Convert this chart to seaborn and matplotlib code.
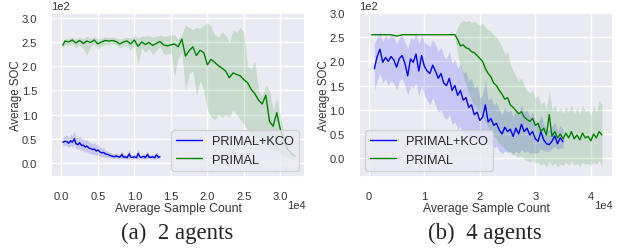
import matplotlib
matplotlib.use("Agg")
import matplotlib.pyplot as plt
import seaborn as sns
import pandas as pd

# ---- (a) 2 agents ----
a_kco_x = [200, 500, 800, 1000, 1300, 1500, 1800, 2000, 2300, 2500, 2800, 3000, 3300, 3500,
           3800, 4000, 4300, 4500, 4800, 5000, 5300, 5500, 5800, 6000, 6300, 6500, 6800, 7000,
           7300, 7500, 7800, 8000, 8300, 8500, 8800, 9000, 9300, 9500, 9800, 10000, 10300,
           10500, 10800, 11000, 11300, 11500, 11800, 12000, 12300, 12500, 12800, 13000, 13300, 13500]
a_kco_mean = [43, 45, 44, 41, 46, 43, 50, 40, 38, 42, 36, 37, 33, 35, 31, 30, 28, 29, 25, 27,
              23, 21, 22, 19, 18, 17, 15, 14, 13, 15, 13, 12, 18, 12, 13, 11, 19, 12, 12, 13,
              11, 20, 12, 12, 14, 11, 18, 12, 12, 13, 11, 17, 12, 13]
a_kco_lo = [34, 37, 35, 32, 36, 32, 38, 30, 28, 30, 25, 26, 22, 24, 20, 20, 18, 18, 15, 17,
            14, 13, 13, 12, 11, 11, 10, 10, 9, 10, 9, 9, 10, 9, 9, 8, 10, 9, 9, 9,
            8, 10, 9, 9, 9, 8, 10, 9, 9, 9, 8, 10, 9, 9]
a_kco_hi = [52, 55, 58, 52, 60, 56, 68, 54, 52, 56, 50, 50, 47, 48, 44, 42, 40, 42, 38, 39,
            33, 31, 32, 27, 25, 24, 21, 20, 18, 22, 18, 17, 26, 17, 18, 15, 28, 17, 17, 19,
            15, 30, 17, 17, 20, 15, 26, 17, 17, 18, 15, 25, 17, 18]

a_pr_x = [200, 500, 1000, 1500, 2000, 2500, 3000, 3500, 4000, 4500, 5000, 5500, 6000, 6500,
          7000, 7500, 8000, 8500, 9000, 9500, 10000, 10500, 11000, 11500, 12000, 12500, 13000,
          13500, 14000, 14500, 15000, 15500, 16000, 16500, 17000, 17500, 18000, 18500, 19000,
          19500, 20000, 20500, 21000, 21500, 22000, 22500, 23000, 23500, 24000, 24500, 25000,
          25500, 26000, 26500, 27000, 27500, 28000, 28500, 29000, 29500, 30000, 30500, 31000,
          31500, 32000]
a_pr_mean = [243, 252, 250, 254, 248, 253, 247, 252, 249, 254, 246, 250, 253, 252, 253, 251,
             246, 250, 252, 246, 254, 241, 250, 245, 249, 243, 247, 251, 244, 242, 244, 246,
             240, 256, 221, 232, 240, 222, 233, 228, 203, 214, 208, 201, 196, 190, 176, 186,
             183, 180, 172, 166, 152, 143, 130, 122, 140, 86, 76, 104, 68, 48, 28, 20, 14]
a_pr_lo = [236, 244, 242, 246, 238, 245, 236, 224, 240, 246, 236, 242, 246, 245, 246, 244,
           238, 242, 244, 232, 246, 205, 238, 228, 236, 225, 232, 240, 226, 225, 228, 180,
           215, 230, 150, 185, 190, 140, 170, 150, 110, 95, 90, 100, 95, 100, 95, 110,
           100, 90, 80, 70, 60, 55, 50, 40, 35, 30, 25, 25, 20, 15, 12, 12, 11]
a_pr_hi = [250, 258, 257, 260, 256, 260, 256, 262, 257, 261, 256, 258, 260, 259, 260, 258,
           256, 258, 260, 258, 262, 258, 262, 262, 263, 260, 262, 264, 262, 262, 265, 265,
           255, 265, 285, 280, 275, 280, 278, 285, 290, 282, 265, 260, 270, 265, 250, 275,
           270, 280, 270, 200, 195, 210, 150, 140, 160, 150, 110, 135, 95, 60, 30, 22, 18]

# ---- (b) 4 agents ----
b_kco_x = [1000, 1500, 2000, 2500, 3000, 3500, 4000, 4500, 5000, 5500, 6000, 6500, 7000, 7500,
           8000, 8500, 9000, 9500, 10000, 10500, 11000, 11500, 12000, 12500, 13000, 13500,
           14000, 14500, 15000, 15500, 16000, 16500, 17000, 17500, 18000, 18500, 19000, 19500,
           20000, 20500, 21000, 21500, 22000, 22500, 23000, 23500, 24000, 24500, 25000, 25500,
           26000, 26500, 27000, 27500, 28000, 28500, 29000, 29500, 30000, 30500, 31000, 31500,
           32000, 32500, 33000, 33500, 34000, 34500, 35000]
b_kco_mean = [185, 210, 225, 198, 208, 200, 210, 203, 188, 206, 212, 196, 170, 205, 198, 215,
              180, 212, 190, 180, 175, 192, 180, 165, 175, 155, 150, 165, 140, 150, 130, 140,
              120, 125, 105, 110, 90, 95, 78, 85, 110, 75, 82, 68, 72, 58, 50, 64, 55, 60,
              45, 62, 50, 70, 55, 62, 48, 55, 40, 35, 55, 38, 30, 28, 35, 46, 30, 42, 34]
b_kco_lo = [140, 160, 175, 155, 165, 150, 160, 155, 140, 160, 165, 150, 130, 150, 145, 155,
            130, 150, 130, 120, 110, 125, 110, 95, 100, 85, 80, 90, 70, 75, 60, 65,
            50, 55, 40, 45, 35, 35, 30, 32, 40, 28, 30, 22, 25, 15, 10, 15, 12, 15,
            8, 15, 10, 18, 12, 15, 10, 12, 10, 12, 20, 15, 15, 15, 20, 25, 18, 22, 20]
b_kco_hi = [235, 250, 262, 240, 255, 245, 258, 250, 235, 250, 255, 240, 225, 250, 245, 262,
            235, 255, 240, 235, 230, 245, 235, 220, 230, 210, 205, 220, 195, 205, 185, 195,
            175, 180, 160, 165, 145, 150, 125, 130, 160, 120, 125, 110, 115, 100, 90, 105,
            95, 100, 85, 100, 90, 110, 95, 100, 85, 95, 75, 70, 90, 70, 60, 58, 65, 75,
            55, 68, 60]

b_pr_x = [500, 2000, 4000, 5000, 6000, 8000, 10000, 12000, 14000, 15500, 16000, 16500, 17000,
          17500, 18000, 18500, 19000, 19500, 20000, 20500, 21000, 21500, 22000, 22500, 23000,
          23500, 24000, 24500, 25000, 25500, 26000, 26500, 27000, 27500, 28000, 28500, 29000,
          29500, 30000, 30500, 31000, 31500, 32000, 32500, 33000, 33500, 34000, 34500, 35000,
          35500, 36000, 36500, 37000, 37500, 38000, 38500, 39000, 39500, 40000, 40500, 41000,
          41500, 42000]
b_pr_mean = [255, 255, 255, 252, 255, 255, 255, 255, 255, 255, 245, 232, 234, 228, 226, 220,
             218, 212, 206, 200, 185, 175, 168, 155, 150, 140, 132, 122, 125, 110, 105, 98,
             92, 96, 85, 80, 76, 82, 68, 72, 55, 62, 48, 90, 45, 55, 42, 50, 40, 52, 42, 55,
             40, 48, 38, 52, 42, 45, 36, 50, 42, 55, 48]
b_pr_lo = [255, 255, 255, 252, 255, 255, 255, 255, 255, 255, 215, 190, 170, 150, 135, 120,
           110, 100, 95, 85, 75, 65, 55, 45, 40, 30, 25, 20, 15, 10, 8, 5,
           2, 5, -2, -5, -8, -3, -10, -8, -15, -10, -18, -5, -15, -10, -18, -12, -15, -8,
           -15, -5, -15, -10, -18, -8, -12, -10, -15, -8, -12, -5, -20]
b_pr_hi = [255, 255, 255, 252, 255, 255, 255, 255, 255, 255, 270, 280, 285, 282, 285, 280,
           283, 278, 275, 278, 270, 265, 262, 255, 250, 240, 230, 215, 220, 195, 180, 170,
           160, 165, 150, 140, 135, 140, 125, 130, 110, 118, 100, 140, 100, 110, 95, 105,
           92, 108, 95, 110, 92, 105, 90, 110, 95, 100, 88, 108, 95, 120, 110]

panels = [
    ("(a)  2 agents", a_kco_x, a_kco_mean, a_kco_lo, a_kco_hi,
     a_pr_x, a_pr_mean, a_pr_lo, a_pr_hi, (-1400, 33400), (-29, 310), "lower right"),
    ("(b)  4 agents", b_kco_x, b_kco_mean, b_kco_lo, b_kco_hi,
     b_pr_x, b_pr_mean, b_pr_lo, b_pr_hi, (-1800, 44000), (-39, 300), "lower left"),
]

sns.set_theme(style="darkgrid")
plt.rcParams["font.family"] = ["Liberation Sans", "DejaVu Sans"]

fig = plt.figure(figsize=(6.23, 2.53), dpi=100)
axes = [fig.add_axes([0.082, 0.296, 0.408, 0.649]),
        fig.add_axes([0.576, 0.296, 0.408, 0.649])]

for ax, (cap, kx, km, kl, kh, px, pm, pl, ph, xlim, ylim, loc) in zip(axes, panels):
    kco = pd.DataFrame({"x": kx, "y": km})
    pr = pd.DataFrame({"x": px, "y": pm})
    sns.lineplot(data=kco, x="x", y="y", ax=ax, color="blue", lw=1.0, label="PRIMAL+KCO")
    ax.fill_between(kx, kl, kh, color="blue", alpha=0.15, lw=0)
    sns.lineplot(data=pr, x="x", y="y", ax=ax, color="green", lw=1.0, label="PRIMAL")
    ax.fill_between(px, pl, ph, color="green", alpha=0.15, lw=0)

    ax.set_xlim(*xlim)
    ax.set_ylim(*ylim)
    ax.ticklabel_format(style="sci", axis="both", scilimits=(0, 0))
    ax.tick_params(axis="x", labelsize=8, pad=4, labelcolor="#333333")
    ax.tick_params(axis="y", labelsize=8, pad=4, labelcolor="#333333")
    ax.xaxis.get_offset_text().set_fontsize(8)
    ax.xaxis.get_offset_text().set_va("center")
    ax.yaxis.get_offset_text().set_fontsize(8)
    ax.set_xlabel("Average Sample Count", fontsize=8.8, labelpad=0.5, color="#333333")
    ax.set_ylabel("Average SOC", fontsize=8.3, labelpad=0, color="#333333")
    ax.legend(loc=loc, fontsize=9.2, frameon=True)

    bb = ax.get_position()
    fig.text((bb.x0 + bb.x1) / 2 - 0.002, 0.076, cap, ha="center", va="center",
             fontsize=16.5, family="Liberation Serif")

fig.savefig("out.png", dpi=100)
